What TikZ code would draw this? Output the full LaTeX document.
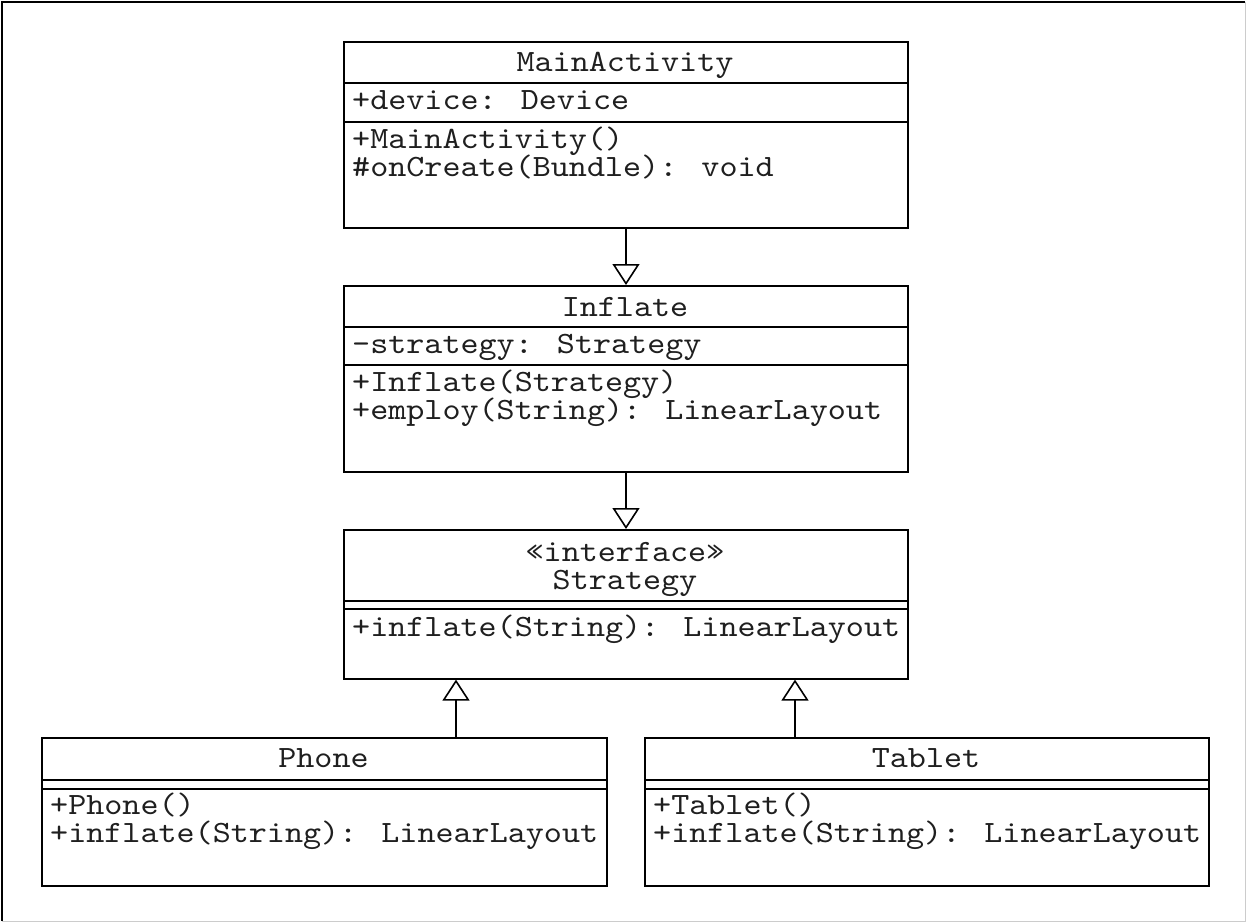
\documentclass[tikz,border=0pt]{standalone}
\usepackage{fontspec}
\newfontfamily\umlfont[FakeStretch=1.11]{lmmono10-regular.otf}
\usetikzlibrary{arrows.meta}
\newcommand\umltwo[3]{\vtop{\baselineskip=#1\lineskiplimit=-100pt\hbox{#2}\hbox{#3}}}
\newcommand\umltwoc[3]{\vtop{\baselineskip=#1\lineskiplimit=-100pt\hbox to 400pt{\hss#2\hss}\hbox to 400pt{\hss#3\hss}}}
\begin{document}
\begin{tikzpicture}[x=1pt,y=-1pt,
  box/.style={draw, line width=1.6pt, inner sep=0pt, anchor=north west},
  umltext/.style={inner sep=0pt, font=\umlfont\fontsize{31}{30}\selectfont, text=black!88},
  txt/.style={umltext, anchor=base west},
  ttl/.style={umltext, anchor=base},
  sepline/.style={line width=1.6pt},
  gen/.style={line width=1.6pt, -{Triangle[open, width=27pt, length=21pt]}}]
\useasboundingbox (0,0) rectangle (1247,923);
% outer frame
\draw[line width=1.5pt] (2,921) -- (2,2) -- (1245,2);
\draw[black!20, line width=1pt] (1245,2) -- (1245,921) -- (2,921);

% MainActivity
\node[box, minimum width=564pt, minimum height=186pt] (main) at (343,41) {};
\draw[sepline] (343,83) -- (907,83);
\draw[sepline] (343,122) -- (907,122);
\node[ttl] (mainT) at (625,72) {MainActivity};
\node[txt] (mainA) at (352,110) {+device: Device};
\node[txt] (mainM) at (352,148) {\umltwo{28.5pt}{+MainActivity()}{\#onCreate(Bundle): void}};

% Inflate
\node[box, minimum width=564pt, minimum height=186pt] (inflate) at (343,285) {};
\draw[sepline] (343,327) -- (907,327);
\draw[sepline] (343,365) -- (907,365);
\node[ttl] (infT) at (625,316) {Inflate};
\node[txt] (infA) at (352,353) {-strategy: Strategy};
\node[txt] (infM) at (352,391) {\umltwo{28.5pt}{+Inflate(Strategy)}{+employ(String): LinearLayout}};

% Strategy
\node[box, minimum width=564pt, minimum height=149pt] (strategy) at (343,529) {};
\draw[sepline] (343,601) -- (907,601);
\draw[sepline] (343,609) -- (907,609);
\node[ttl] (strT) at (625,561) {\umltwoc{28.5pt}{«interface»}{Strategy}};
\node[txt] (strM) at (352,636) {+inflate(String): LinearLayout};

% Phone
\node[box, minimum width=565pt, minimum height=148pt] (phone) at (41,737) {};
\draw[sepline] (41,780) -- (606,780);
\draw[sepline] (41,789) -- (606,789);
\node[ttl] (phT) at (323.5,767) {Phone};
\node[txt] (phM) at (50,814) {\umltwo{28.5pt}{+Phone()}{+inflate(String): LinearLayout}};

% Tablet
\node[box, minimum width=564pt, minimum height=148pt] (tablet) at (644,737) {};
\draw[sepline] (644,780) -- (1208,780);
\draw[sepline] (644,789) -- (1208,789);
\node[ttl] (tbT) at (926,767) {Tablet};
\node[txt] (tbM) at (653,814) {\umltwo{28.5pt}{+Tablet()}{+inflate(String): LinearLayout}};

% connectors
\coordinate (cx) at (626,0);
\coordinate (px) at (456,0);
\coordinate (tx) at (795,0);
\draw[gen] (main.south -| cx) -- (inflate.north -| cx);
\draw[gen] (inflate.south -| cx) -- (strategy.north -| cx);
\draw[gen] (phone.north -| px) -- (strategy.south -| px);
\draw[gen] (tablet.north -| tx) -- (strategy.south -| tx);
\end{tikzpicture}
\end{document}
